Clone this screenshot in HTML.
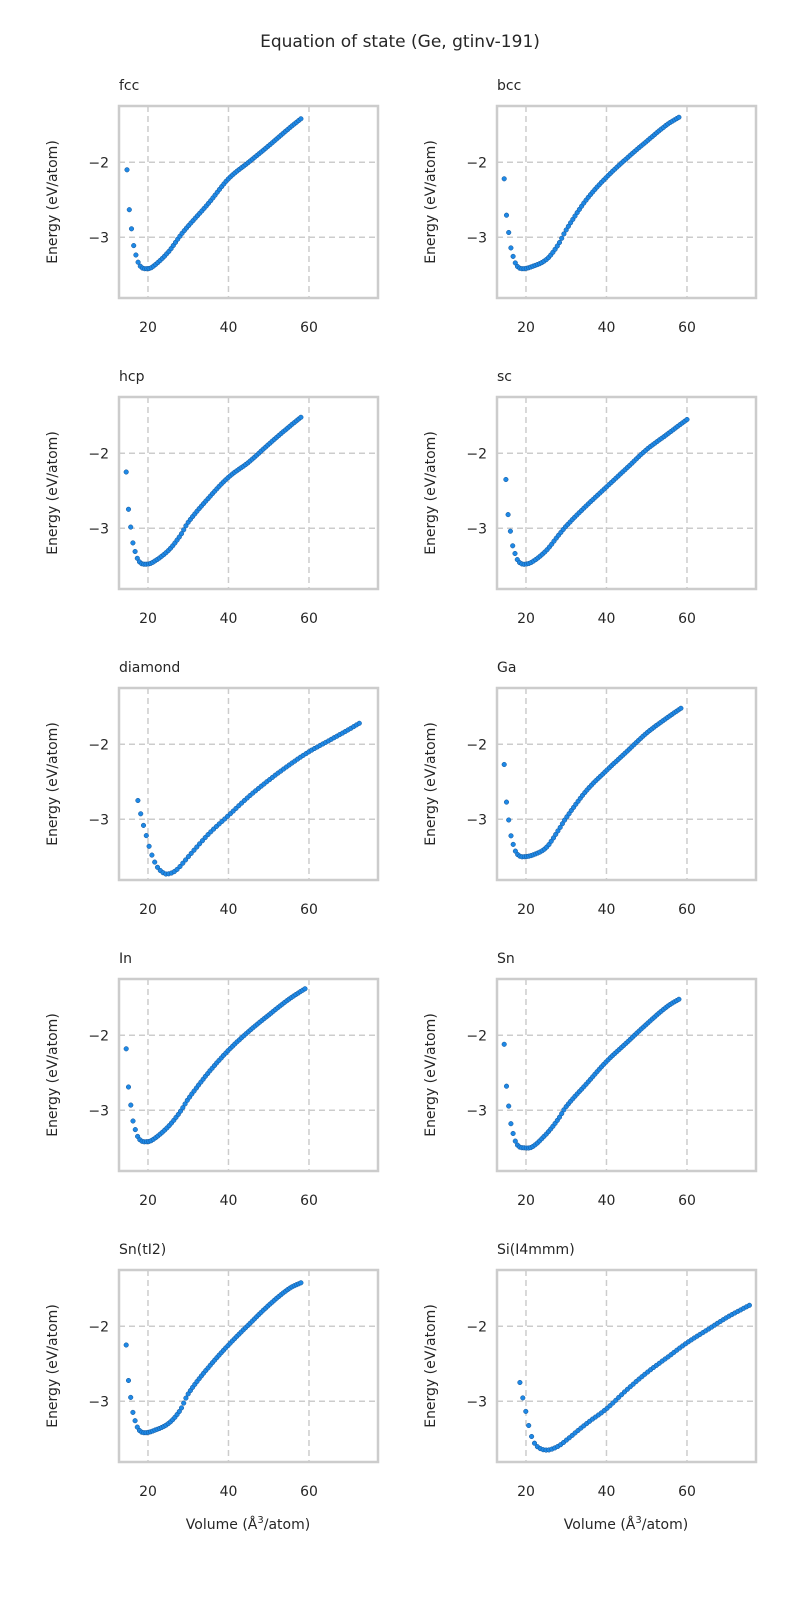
<!DOCTYPE html>
<html><head><meta charset="utf-8"><style>
html,body{margin:0;padding:0;background:#fff;width:800px;height:1600px;overflow:hidden}
svg text{font-family:"DejaVu Sans","Liberation Sans",sans-serif;fill:#262626}
</style></head><body>
<svg id="s" width="800" height="1600" xmlns="http://www.w3.org/2000/svg">
<text x="400" y="47" font-size="17" text-anchor="middle">Equation of state (Ge, gtinv-191)</text>
</svg>
<script>
const DV=[0,0.5,1.2,1.7,2.4,2.9,3.7,4.7],FR=[0,0.38,0.63,0.78,0.89,0.95,0.99,1];
function head(v0,e0,em){return DV.map((d,i)=>[v0+d,e0+(em-e0)*FR[i]]);}
const P=[
["fcc",head(14.8,-2.1,-3.42).concat([[21,-3.4],[25,-3.2],[28,-2.98],[30,-2.85],[35,-2.55],[40,-2.22],[45,-2.0],[50,-1.78],[55,-1.55],[58,-1.42]])],
["bcc",head(14.6,-2.22,-3.42).concat([[21,-3.4],[25,-3.3],[28,-3.1],[30,-2.9],[35,-2.5],[40,-2.2],[45,-1.95],[50,-1.72],[55,-1.5],[58,-1.4]])],
["hcp",head(14.6,-2.25,-3.48).concat([[21,-3.46],[25,-3.3],[28,-3.1],[30,-2.92],[35,-2.6],[40,-2.32],[45,-2.12],[50,-1.88],[55,-1.65],[58,-1.52]])],
["sc",head(15,-2.35,-3.48).concat([[21.5,-3.45],[25,-3.3],[28,-3.1],[30,-2.97],[35,-2.7],[40,-2.45],[45,-2.2],[50,-1.95],[55,-1.75],[60,-1.55]])],
["diamond",[[17.5,-2.75],[18.5,-3.0],[19.5,-3.2],[20.5,-3.4],[21.5,-3.55],[22.5,-3.65],[24,-3.72],[25,-3.73],[27,-3.68],[30,-3.5],[35,-3.2],[40,-2.95],[45,-2.7],[50,-2.48],[55,-2.28],[60,-2.1],[65,-1.95],[70,-1.8],[72.5,-1.72]]],
["Ga",head(14.6,-2.27,-3.5).concat([[21.5,-3.48],[25,-3.38],[28,-3.15],[30,-2.98],[35,-2.62],[40,-2.35],[45,-2.1],[50,-1.85],[55,-1.65],[58.5,-1.52]])],
["In",head(14.6,-2.18,-3.42).concat([[21,-3.4],[25,-3.22],[28,-3.02],[30,-2.85],[35,-2.5],[40,-2.2],[45,-1.95],[50,-1.73],[55,-1.52],[59,-1.38]])],
["Sn",head(14.6,-2.12,-3.5).concat([[21.5,-3.49],[25,-3.32],[28,-3.12],[30,-2.95],[35,-2.65],[40,-2.35],[45,-2.1],[50,-1.85],[55,-1.62],[58,-1.52]])],
["Sn(tI2)",head(14.6,-2.25,-3.42).concat([[21,-3.4],[25,-3.3],[28,-3.12],[30,-2.9],[35,-2.55],[40,-2.25],[45,-1.98],[50,-1.72],[55,-1.5],[58,-1.42]])],
["Si(I4mmm)",[[18.5,-2.75],[19.2,-2.95],[20,-3.15],[21,-3.4],[22,-3.55],[23.5,-3.63],[25.5,-3.65],[28,-3.6],[30,-3.52],[35,-3.3],[40,-3.1],[45,-2.85],[50,-2.62],[55,-2.42],[60,-2.22],[65,-2.05],[70,-1.88],[75.5,-1.72]]]
];
const s=document.getElementById('s');let h='';
function interp(k,v){for(let i=0;i<k.length-1;i++){if(v<=k[i+1][0]){const p0=k[Math.max(i-1,0)],p1=k[i],p2=k[i+1],p3=k[Math.min(i+2,k.length-1)];const t=(v-p1[0])/(p2[0]-p1[0]);const t2=t*t,t3=t2*t;
const m1=(p2[1]-p0[1])/(p2[0]-p0[0])*(p2[0]-p1[0]),m2=(p3[1]-p1[1])/(p3[0]-p1[0])*(p2[0]-p1[0]);
return (2*t3-3*t2+1)*p1[1]+(t3-2*t2+t)*m1+(-2*t3+3*t2)*p2[1]+(t3-t2)*m2;}}return k[k.length-1][1];}
P.forEach((p,i)=>{const col=i%2,row=Math.floor(i/2);const L=col?497:119,T=106+row*291,W=259,H=192;
const X=v=>L+(v-12.8)*4.025,Y=e=>T+(-1.25-e)*75;
h+=`<text x="${L}" y="${T-16}" font-size="14">${p[0]}</text>`;
[20,40,60].forEach(v=>{h+=`<line x1="${X(v)}" y1="${T}" x2="${X(v)}" y2="${T+H}" stroke="#ccc" stroke-width="1.5" stroke-dasharray="6,4"/><text x="${X(v)}" y="${T+H+34}" font-size="14" text-anchor="middle">${v}</text>`;});
[-2,-3].forEach(e=>{h+=`<line x1="${L}" y1="${Y(e)}" x2="${L+W}" y2="${Y(e)}" stroke="#ccc" stroke-width="1.5" stroke-dasharray="6,4"/><text x="${L-10}" y="${Y(e)+5}" font-size="14" text-anchor="end">−${-e}</text>`;});
h+=`<rect x="${L}" y="${T}" width="${W}" height="${H}" fill="none" stroke="#ccc" stroke-width="2.5"/>`;
h+=`<text transform="translate(${L-62},${T+H/2}) rotate(-90)" font-size="14" text-anchor="middle">Energy (eV/atom)</text>`;
if(row==4)h+=`<text x="${L+129}" y="${T+H+67}" font-size="14" text-anchor="middle">Volume (Å<tspan dy="-6" font-size="10">3</tspan><tspan dy="6">/atom)</tspan></text>`;
const k=p[1],v0=k[0][0],v1=k[k.length-1][0],n=80;
for(let j=0;j<n;j++){const v=v0+(v1-v0)*j/(n-1);const e=interp(k,v);
h+=`<circle cx="${X(v).toFixed(1)}" cy="${Y(e).toFixed(1)}" r="2.3" fill="#1e88e5" stroke="#14569a" stroke-width="0.5"/>`;}
});
s.innerHTML+=h;
</script>
</body></html>
